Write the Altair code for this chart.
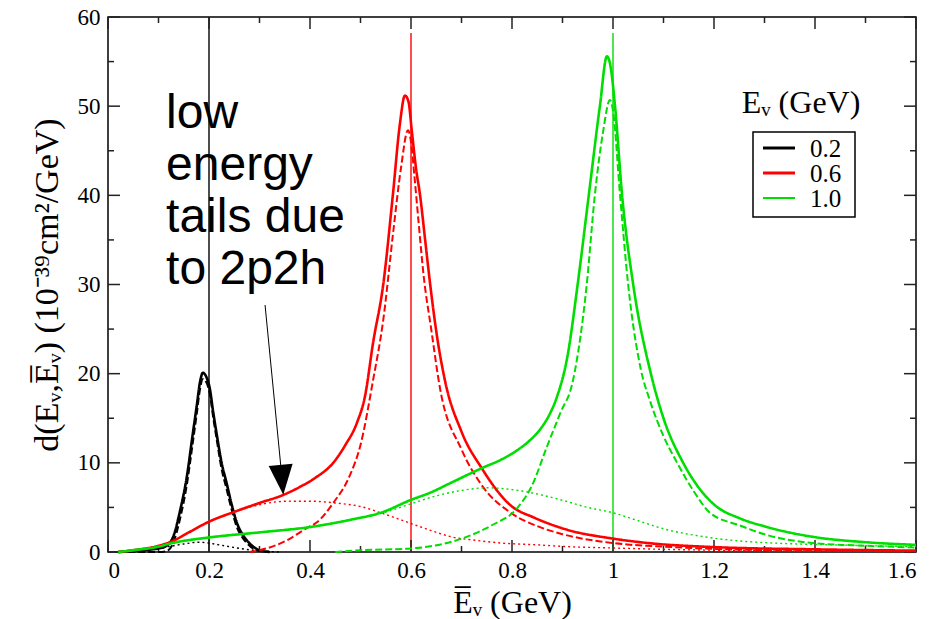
import altair as alt
import pandas as pd

# ---------------- data ----------------
energies = ["0.2", "0.6", "1.0"]
colors = ["#000000", "#ff0000", "#00dd00"]
legend_widths = [3.0, 3.0, 2.0]

# E = 0.2 GeV
b_sol_x = [0.02, 0.05, 0.08, 0.1, 0.116, 0.129, 0.143, 0.156, 0.168, 0.176, 0.182, 0.188, 0.195, 0.202, 0.208, 0.215, 0.225, 0.235, 0.245, 0.255, 0.265, 0.275, 0.29, 0.30, 0.32]
b_sol_y = [0.0, 0.1, 0.25, 0.4, 0.7, 1.7, 4.7, 8.4, 13.3, 16.5, 19.0, 20.1, 19.6, 18.2, 15.8, 13.3, 10.0, 7.7, 5.3, 3.3, 2.1, 1.3, 0.5, 0.2, 0.0]
b_das_x = b_sol_x
b_das_y = [0.0, 0.0, 0.0, 0.0, 0.1, 1.0, 3.8, 7.5, 12.3, 15.6, 18.2, 19.4, 19.0, 17.6, 15.2, 12.7, 9.3, 7.0, 4.7, 2.8, 1.7, 1.0, 0.3, 0.1, 0.0]
b_dot_x = [0.02, 0.05, 0.08, 0.1, 0.12, 0.15, 0.18, 0.2, 0.22, 0.25, 0.28, 0.31, 0.34]
b_dot_y = [0.0, 0.1, 0.25, 0.4, 0.6, 0.9, 1.1, 1.0, 0.8, 0.5, 0.25, 0.1, 0.0]

# E = 0.6 GeV
r_sol_x = [0.02, 0.05, 0.1, 0.127, 0.16, 0.2, 0.25, 0.3, 0.347, 0.38, 0.41, 0.446, 0.47, 0.493, 0.509, 0.525, 0.545, 0.564, 0.578, 0.588, 0.595, 0.602, 0.61, 0.618, 0.628, 0.638, 0.652, 0.667, 0.7, 0.74, 0.8, 0.842, 0.909, 1.0, 1.07, 1.2, 1.4, 1.6]
r_sol_y = [0.0, 0.2, 0.7, 1.2, 2.2, 3.4, 4.5, 5.5, 6.4, 7.3, 8.3, 10.0, 12.0, 14.5, 17.5, 23.5, 30.0, 40.0, 48.0, 51.2, 50.5, 47.0, 43.0, 40.0, 35.0, 30.0, 24.0, 19.3, 13.5, 9.4, 5.1, 3.9, 2.5, 1.5, 1.0, 0.55, 0.3, 0.15]
r_das_x = [0.28, 0.3, 0.354, 0.394, 0.413, 0.446, 0.479, 0.5, 0.525, 0.545, 0.565, 0.58, 0.594, 0.6, 0.607, 0.615, 0.625, 0.64, 0.657, 0.7, 0.74, 0.8, 0.85, 0.9, 1.0, 1.1, 1.2, 1.4, 1.6]
r_das_y = [0.0, 0.2, 1.3, 2.7, 3.3, 5.5, 8.6, 12.0, 19.3, 26.0, 36.0, 43.0, 47.3, 46.0, 42.0, 37.0, 31.0, 25.0, 18.5, 11.5, 7.5, 4.3, 2.9, 2.0, 1.0, 0.6, 0.35, 0.15, 0.08]
r_dot_x = [0.02, 0.05, 0.1, 0.127, 0.16, 0.2, 0.25, 0.3, 0.33, 0.36, 0.4, 0.45, 0.5, 0.545, 0.6, 0.64, 0.68, 0.73, 0.78, 0.85, 0.91, 1.0, 1.1, 1.2, 1.4, 1.6]
r_dot_y = [0.0, 0.2, 0.7, 1.2, 2.2, 3.4, 4.5, 5.3, 5.6, 5.7, 5.7, 5.5, 5.1, 4.3, 3.2, 2.4, 1.7, 1.3, 1.0, 0.8, 0.6, 0.45, 0.3, 0.2, 0.1, 0.05]

# E = 1.0 GeV
g_sol_x = [0.02, 0.05, 0.1, 0.127, 0.196, 0.3, 0.4, 0.479, 0.545, 0.598, 0.64, 0.677, 0.74, 0.78, 0.81, 0.835, 0.855, 0.875, 0.889, 0.91, 0.93, 0.952, 0.974, 0.988, 0.995, 1.004, 1.018, 1.04, 1.075, 1.1, 1.139, 1.17, 1.205, 1.25, 1.305, 1.396, 1.5, 1.6]
g_sol_y = [0.0, 0.2, 0.6, 1.0, 1.6, 2.2, 2.8, 3.6, 4.5, 5.8, 6.7, 7.7, 9.4, 10.4, 11.4, 12.5, 13.7, 15.5, 17.4, 22.0, 30.0, 40.0, 50.0, 55.6, 54.5, 50.0, 40.0, 30.0, 20.0, 15.0, 10.0, 7.2, 5.1, 3.8, 2.8, 1.7, 1.1, 0.8]
g_das_x = [0.45, 0.5, 0.6, 0.71, 0.76, 0.81, 0.84, 0.869, 0.895, 0.921, 0.948, 0.964, 0.98, 0.994, 1.0, 1.014, 1.03, 1.055, 1.073, 1.1, 1.127, 1.16, 1.192, 1.25, 1.305, 1.396, 1.5, 1.6]
g_das_y = [0.0, 0.2, 0.4, 1.7, 3.0, 4.9, 7.5, 11.8, 15.5, 19.3, 30.0, 40.0, 47.0, 50.7, 49.5, 40.0, 30.0, 20.5, 17.0, 13.0, 10.0, 6.8, 4.4, 3.0, 1.9, 1.0, 0.7, 0.5]
g_dot_x = [0.02, 0.05, 0.1, 0.127, 0.196, 0.3, 0.4, 0.479, 0.545, 0.6, 0.65, 0.7, 0.75, 0.8, 0.842, 0.9, 0.95, 1.0, 1.05, 1.107, 1.17, 1.238, 1.32, 1.436, 1.6]
g_dot_y = [0.0, 0.2, 0.6, 1.0, 1.6, 2.2, 2.8, 3.6, 4.4, 5.4, 6.3, 6.9, 7.2, 7.0, 6.6, 5.8, 5.0, 4.4, 3.5, 2.5, 1.8, 1.3, 1.0, 0.8, 0.6]

# vertical reference lines at the true neutrino energy
vline_x = [0.2, 0.6, 1.0]
vline_top = [60.0, 58.2, 58.2]

# axis ticks
x_major = [0, 0.2, 0.4, 0.6, 0.8, 1.0, 1.2, 1.4, 1.6]
x_minor = [0.1, 0.3, 0.5, 0.7, 0.9, 1.1, 1.3, 1.5]
y_major = [0, 10, 20, 30, 40, 50, 60]
y_minor = [5, 15, 25, 35, 45, 55]

# annotation
ann_text = "low\nenergy\ntails due\nto 2p2h"
ann_x = [0.115]
ann_y = [47.5]
arrow_x = [0.311, 0.342]
arrow_y = [27.7, 9.75]
arrow_head_x = [0.3445]
arrow_head_y = [8.1]

x_title = "E\u0305\u1d65 (GeV)"
y_title = "d(E\u1d65,E\u0305\u1d65) (10\u207b\u00b3\u2079cm\u00b2/GeV)"
legend_title = "E\u1d65 (GeV)"

# ---------------- build tables ----------------
series = [
    ("0.2", "solid", b_sol_x, b_sol_y), ("0.2", "dashed", b_das_x, b_das_y), ("0.2", "dotted", b_dot_x, b_dot_y),
    ("0.6", "solid", r_sol_x, r_sol_y), ("0.6", "dashed", r_das_x, r_das_y), ("0.6", "dotted", r_dot_x, r_dot_y),
    ("1.0", "solid", g_sol_x, g_sol_y), ("1.0", "dashed", g_das_x, g_das_y), ("1.0", "dotted", g_dot_x, g_dot_y),
]
rows = []
for E, comp, xs_, ys_ in series:
    for i, (xv, yv) in enumerate(zip(xs_, ys_)):
        rows.append({"x": xv, "y": yv, "E": E, "comp": comp, "key": E + comp, "i": i})
df = pd.DataFrame(rows)

vl = pd.DataFrame({"x": vline_x, "y0": [0.0] * 3, "y1": vline_top, "E": energies})

W, H = 808, 535
FONT_SERIF = "Liberation Serif"

xscale = alt.Scale(domain=[0, 1.6], nice=False)
yscale = alt.Scale(domain=[0, 60], nice=False)
cscale = alt.Scale(domain=energies, range=colors)

xaxis = alt.Axis(values=x_major, format="~g", title=x_title, labelPadding=7, titlePadding=5,
                 titleFontSize=32)
yaxis = alt.Axis(values=y_major, title=y_title, labelPadding=8, titlePadding=13,
                 titleFontSize=34)

def X(field):
    return alt.X(field, scale=xscale, axis=xaxis)

def Y(field):
    return alt.Y(field, scale=yscale, axis=yaxis)

lines = alt.Chart(df).mark_line(interpolate="monotone").encode(
    x=X("x:Q"),
    y=Y("y:Q"),
    color=alt.Color("E:N", scale=cscale, legend=None),
    strokeDash=alt.StrokeDash("comp:N", scale=alt.Scale(domain=["solid", "dashed", "dotted"],
                                                         range=[[1, 0], [7, 3], [2, 3]]), legend=None),
    strokeWidth=alt.StrokeWidth("comp:N", scale=alt.Scale(domain=["solid", "dashed", "dotted"],
                                                           range=[2.6, 1.4, 1.6]), legend=None),
    detail="key:N",
    order="i:Q",
)

vrules = alt.Chart(vl).mark_rule(strokeWidth=1.4).encode(
    x=X("x:Q"),
    y=Y("y0:Q"),
    y2="y1:Q",
    color=alt.Color("E:N", scale=cscale, legend=None),
)

tick_color = "#222222"
xmaj = pd.DataFrame({"x": x_major})
xmin = pd.DataFrame({"x": x_minor})
ymaj = pd.DataFrame({"y": y_major})
ymin = pd.DataFrame({"y": y_minor})

def xticks(data, length):
    bottom = alt.Chart(data).mark_rule(color=tick_color, strokeWidth=1.5).encode(
        x=X("x:Q"), y=alt.value(H), y2=alt.value(H - length))
    top = alt.Chart(data).mark_rule(color=tick_color, strokeWidth=1.5).encode(
        x=X("x:Q"), y=alt.value(0), y2=alt.value(length))
    return [bottom, top]

def yticks(data, length):
    left = alt.Chart(data).mark_rule(color=tick_color, strokeWidth=1.5).encode(
        y=Y("y:Q"), x=alt.value(0), x2=alt.value(length))
    right = alt.Chart(data).mark_rule(color=tick_color, strokeWidth=1.5).encode(
        y=Y("y:Q"), x=alt.value(W), x2=alt.value(W - length))
    return [left, right]

ticks = xticks(xmaj, 12) + xticks(xmin, 6) + yticks(ymaj, 12) + yticks(ymin, 6)

ann = alt.Chart(pd.DataFrame({"x": ann_x, "y": ann_y, "t": [ann_text]})).mark_text(
    font="Liberation Sans", fontSize=48, align="left", baseline="alphabetic",
    lineBreak="\n", lineHeight=52, color="black").encode(
    x=X("x:Q"), y=Y("y:Q"), text="t:N")

arrow_df = pd.DataFrame({"x": [arrow_x[0]], "y": [arrow_y[0]], "x2": [arrow_x[1]], "y2": [arrow_y[1]]})
arrow_line = alt.Chart(arrow_df).mark_rule(color="black", strokeWidth=1).encode(
    x=X("x:Q"), y=Y("y:Q"), x2="x2:Q", y2="y2:Q")
arrow_head = alt.Chart(pd.DataFrame({"x": arrow_head_x, "y": arrow_head_y})).mark_point(
    shape="M-0.8,-1L0.8,-1L0,1Z", filled=True, color="black", opacity=1, size=900, angle=355,
    strokeWidth=0).encode(x=X("x:Q"), y=Y("y:Q"))

# ---- hand-built legend (box, sample lines, labels, title) ----
one = pd.DataFrame({"t": [legend_title]})
leg_title = alt.Chart(one).mark_text(
    font=FONT_SERIF, fontSize=32, align="center", baseline="alphabetic", color="black").encode(
    x=alt.value(693), y=alt.value(96), text="t:N")
leg_box = alt.Chart(one).mark_rect(fill="white", stroke="black", strokeWidth=1.5).encode(
    x=alt.value(645), x2=alt.value(747), y=alt.value(115), y2=alt.value(200))
leg_layers = [leg_title, leg_box]
for k, (lab, col, lw) in enumerate(zip(energies, colors, legend_widths)):
    row_y = 131 + 25 * k
    d = pd.DataFrame({"t": [lab]})
    leg_layers.append(alt.Chart(d).mark_rule(color=col, strokeWidth=lw).encode(
        x=alt.value(655), x2=alt.value(687), y=alt.value(row_y)))
    leg_layers.append(alt.Chart(d).mark_text(
        font=FONT_SERIF, fontSize=25, align="left", baseline="middle", color="black").encode(
        x=alt.value(702), y=alt.value(row_y + 1), text="t:N"))

chart = alt.layer(vrules, *ticks, lines, ann, arrow_line, arrow_head, *leg_layers).properties(
    width=W, height=H,
    padding={"left": 108, "top": 17, "right": 17, "bottom": 67},
    autosize=alt.AutoSizeParams(type="none"),
    background="white",
).configure_view(stroke="black", strokeWidth=1.5).configure_axis(
    domain=False, ticks=False, grid=False,
    labelFont=FONT_SERIF, labelFontSize=23, labelColor="black",
    titleFont=FONT_SERIF, titleFontWeight="normal", titleColor="black",
)

chart.save("out.html", embed_options={"renderer": "svg", "actions": False})
